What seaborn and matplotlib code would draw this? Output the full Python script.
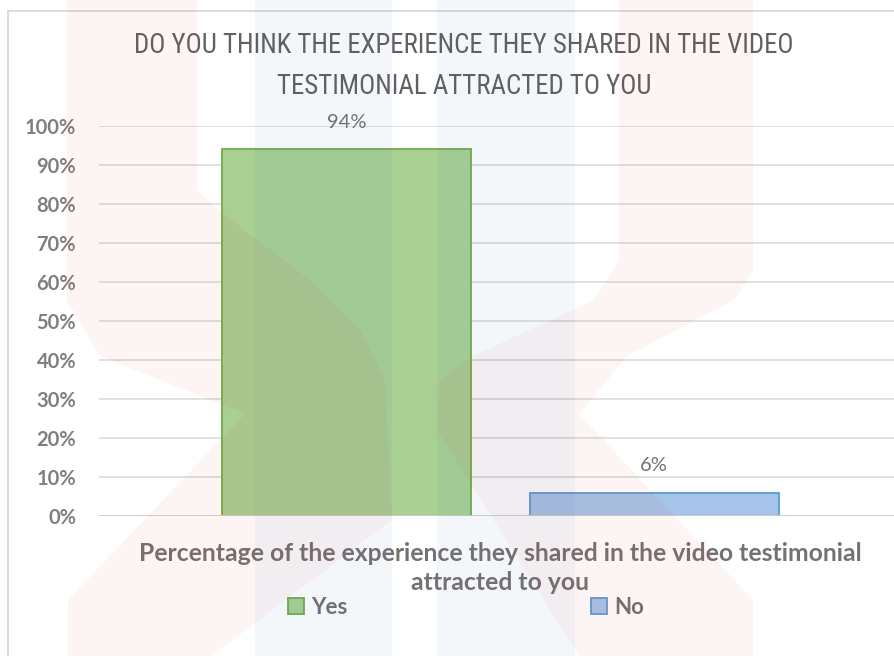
import logging
logging.getLogger('matplotlib.font_manager').setLevel(logging.ERROR)
import matplotlib
matplotlib.use("Agg")
import matplotlib.pyplot as plt
from matplotlib.patches import Patch, Polygon, Rectangle
from matplotlib.lines import Line2D
import seaborn as sns
import pandas as pd

# ---- data ----
answers = ["Yes", "No"]
percent = [94, 6]
bar_labels = ["94%", "6%"]
ytick_values = [0, 10, 20, 30, 40, 50, 60, 70, 80, 90, 100]
ytick_labels = ["0%", "10%", "20%", "30%", "40%", "50%", "60%", "70%", "80%", "90%", "100%"]
title_text = "DO YOU THINK THE EXPERIENCE THEY SHARED IN THE VIDEO\nTESTIMONIAL ATTRACTED TO YOU"
xlabel_text = "Percentage of the experience they shared in the video testimonial\nattracted to you"

fill_colors = ["#a9cf93", "#a6c4e8"]
edge_colors = ["#70ad47", "#5b9bd5"]

sns.set_theme(style="white")
plt.rcParams['font.family'] = ['Lato', 'DejaVu Sans']

W, H = 894, 656
fig = plt.figure(figsize=(W / 100, H / 100), dpi=100)
fig.patch.set_facecolor("white")

def px(x0, y0, x1, y1):
    return [x0 / W, 1 - y1 / H, (x1 - x0) / W, (y1 - y0) / H]

ax = fig.add_axes(px(99, 126, 894, 516))
ax.set_facecolor("none")

df = pd.DataFrame({"answer": answers, "pct": percent})
sns.barplot(data=df, x="answer", y="pct", hue="answer", palette=fill_colors,
            width=0.81, saturation=1, legend=False, ax=ax, zorder=3)
for p, ec in zip(ax.patches, edge_colors):
    p.set_edgecolor(ec)
    p.set_linewidth(1.3)

ax.set_xlim(-0.805, 1.780)
ax.set_ylim(0, 100)
ax.set_yticks(ytick_values)
ax.set_yticklabels(ytick_labels)
ax.set_xticks([])
ax.set_ylabel("")
for s in ax.spines.values():
    s.set_visible(False)
ax.grid(axis="y", color="#d9d9d9", linewidth=1.1, zorder=0)
ax.grid(axis="x", visible=False)
ax.axhline(0, color="#d0d0d0", linewidth=1.3, zorder=4)
ax.tick_params(axis="y", length=0, pad=16.5, labelsize=14.5, labelcolor="#7f7f7f")
for t in ax.get_yticklabels():
    t.set_fontweight("bold")

for p, lab in zip(ax.patches, bar_labels):
    ax.annotate(lab, (p.get_x() + p.get_width() / 2, p.get_height()),
                xytext=(0, 19.5), textcoords="offset points",
                ha="center", va="center", fontsize=14.5, color="#767171")

ax.set_xlabel(xlabel_text, fontsize=17.8, fontweight="bold", color="#767171",
              linespacing=1.33, va="center", ha="center")
ax.xaxis.set_label_coords((500 - 99) / 795, (516 - 568) / 390)

fig.text(464 / W, 1 - 66 / H, title_text, ha="center", va="center",
         fontsize=19.4, color="#626060", linespacing=1.68,
         family=['Liberation Sans Narrow', 'DejaVu Sans Condensed', 'Roboto Condensed', 'DejaVu Sans'])

handles = [Patch(facecolor=fill_colors[i], edgecolor=edge_colors[i], linewidth=1.3, label=answers[i])
           for i in range(2)]
leg = fig.legend(handles=handles, loc="center left", bbox_to_anchor=(288 / W, 1 - 607 / H),
                 ncol=2, frameon=False, borderpad=0, borderaxespad=0,
                 handlelength=0.72, handleheight=0.72, handletextpad=0.3,
                 columnspacing=11.0, prop={"size": 16, "weight": "bold"})
for t in leg.get_texts():
    t.set_color("#767171")

# chart border
fig.add_artist(Line2D([8 / W, 1], [1 - 11 / H, 1 - 11 / H], color="#d9d9d9", linewidth=1.3))
fig.add_artist(Line2D([8 / W, 8 / W], [0, 1 - 11 / H], color="#d9d9d9", linewidth=1.3))

# faint watermark overlay
ov = fig.add_axes([0, 0, 1, 1], zorder=20)
ov.set_xlim(0, W)
ov.set_ylim(H, 0)
ov.axis("off")
ov.patch.set_alpha(0)
red = "#e03030"
blue = "#3070b0"
left_red = [(67, 0), (197, 0), (197, 190), (222, 213), (310, 280), (360, 330), (385, 380),
            (392, 520), (211, 656), (68, 656), (68, 600), (245, 414), (100, 356), (67, 300)]
right_red = [(619, 0), (753, 0), (753, 270), (734, 300), (627, 356), (579, 414), (753, 600),
             (753, 656), (579, 656), (437, 430), (440, 380), (473, 356), (594, 300), (619, 260)]
for poly in (left_red, right_red):
    ov.add_patch(Polygon(poly, closed=True, facecolor=red, edgecolor="none", alpha=0.05))
for x0, x1 in ((255, 392), (437, 575)):
    ov.add_patch(Rectangle((x0, 0), x1 - x0, H, facecolor=blue, edgecolor="none", alpha=0.05))

fig.savefig("out.png", dpi=100)
